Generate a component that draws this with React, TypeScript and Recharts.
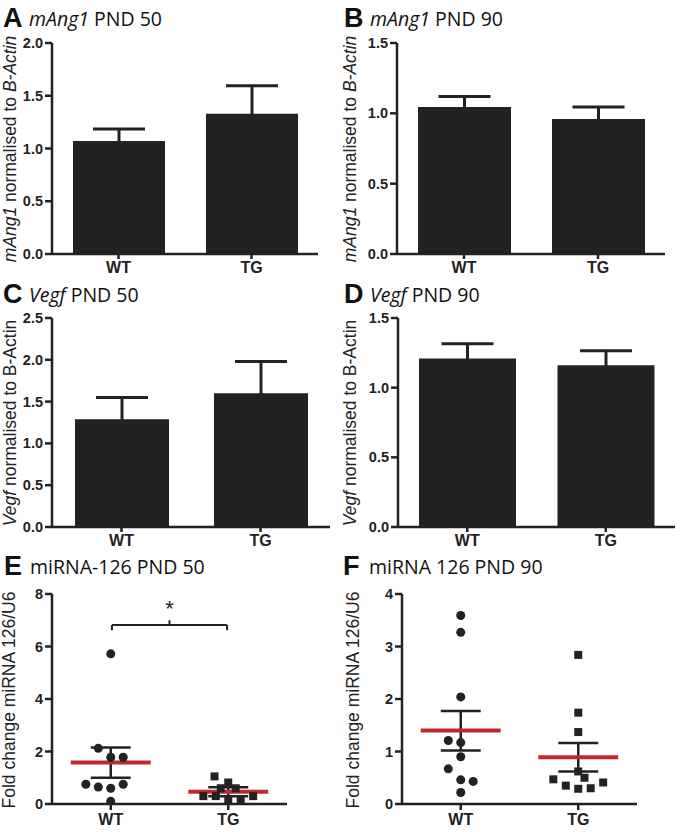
import React from 'react';
import {
  BarChart,
  Bar,
  XAxis,
  YAxis,
  ErrorBar,
  ScatterChart,
  Scatter,
  ReferenceLine,
  ReferenceDot,
} from 'recharts';

// ---------- data ----------
const groups = ['WT', 'TG'];

// A: mAng1 PND 50
const mAng1Pnd50Mean = [1.07, 1.33];
const mAng1Pnd50Sem = [0.115, 0.265];
// B: mAng1 PND 90
const mAng1Pnd90Mean = [1.045, 0.96];
const mAng1Pnd90Sem = [0.075, 0.085];
// C: Vegf PND 50
const vegfPnd50Mean = [1.29, 1.6];
const vegfPnd50Sem = [0.26, 0.38];
// D: Vegf PND 90
const vegfPnd90Mean = [1.21, 1.16];
const vegfPnd90Sem = [0.105, 0.105];

// E: miRNA-126 PND 50 (individual animals; jitter = horizontal slot of the dot)
const mir50WT = [5.72, 2.12, 1.78, 1.78, 0.75, 0.65, 0.6, 0.75, 0.1];
const mir50WTJitter = [0, -1, 0, 1, -2, -1, 0, 1, 0];
const mir50TG = [1.05, 0.82, 0.6, 0.6, 0.3, 0.3, 0.3, 0.18, 0.18];
const mir50TGJitter = [-1.1, 0, -0.6, 0.6, -2, -1, 2, 0, 1];
const mir50Mean = [1.58, 0.47];
const mir50SemLow = [1.0, 0.3];
const mir50SemHigh = [2.15, 0.64];

// F: miRNA 126 PND 90
const mir90WT = [3.59, 3.27, 2.04, 1.21, 1.17, 0.9, 0.67, 0.46, 0.43, 0.22];
const mir90WTJitter = [0, 0, 0, -1, 0, 0, -1, 0, 1, 0];
const mir90TG = [2.84, 1.74, 1.37, 0.62, 0.47, 0.5, 0.35, 0.29, 0.3, 0.41];
const mir90TGJitter = [0, 0, 0, 0, -2, 0.5, -1, 0, 1, 2];
const mir90Mean = [1.4, 0.89];
const mir90SemLow = [1.02, 0.62];
const mir90SemHigh = [1.77, 1.16];

// ---------- styles ----------
const AX = '#222';
const BAR = '#222';
const RED = '#c0282d';
const FONT = '"Liberation Sans", Arial, Helvetica, sans-serif';
const TITLE_FONT = '"Open Sans", "Noto Sans", sans-serif';
const SLOT = 0.106;
const Y_TICK_SIZE = 14.5;
const X_TICK_SIZE = 16;

const xTick = { fill: AX, fontSize: X_TICK_SIZE, fontWeight: 'bold', fontFamily: FONT };

function makeYTick(decimals: number) {
  return (props: any) => {
    const { x, y, payload } = props;
    return (
      <text
        x={x}
        y={y}
        dy={5}
        textAnchor="end"
        fill={AX}
        fontSize={Y_TICK_SIZE}
        fontWeight="bold"
        fontFamily={FONT}
      >
        {Number(payload.value).toFixed(decimals)}
      </text>
    );
  };
}

type BarPanelProps = {
  left: number;
  top: number;
  width: number;
  height: number;
  right: number;
  yWidth: number;
  mean: number[];
  sem: number[];
  domain: [number, number];
  ticks: number[];
  barSize: number;
};

function BarPanel(p: BarPanelProps) {
  const data = groups.map((g, i) => ({ group: g, value: p.mean[i], err: p.sem[i] }));
  return (
    <div style={{ position: 'absolute', left: p.left, top: p.top }}>
      <BarChart
        width={p.width}
        height={p.height}
        data={data}
        margin={{ top: 13, right: p.right, left: 0, bottom: 0 }}
      >
        <XAxis
          dataKey="group"
          height={31}
          stroke={AX}
          strokeWidth={2.5}
          tickSize={5}
          tickMargin={3}
          tick={xTick}
        />
        <YAxis
          width={p.yWidth}
          domain={p.domain}
          ticks={p.ticks}
          type="number"
          stroke={AX}
          strokeWidth={2.5}
          tickSize={7}
          tickMargin={2}
          tick={makeYTick(1)}
          allowDataOverflow
        />
        <Bar dataKey="value" fill={BAR} barSize={p.barSize} isAnimationActive={false}>
          <ErrorBar dataKey="err" width={26} stroke={BAR} strokeWidth={3} isAnimationActive={false} />
        </Bar>
      </BarChart>
    </div>
  );
}

type ScatterPanelProps = {
  left: number;
  top: number;
  width: number;
  height: number;
  right: number;
  yWidth: number;
  wt: number[];
  wtJ: number[];
  tg: number[];
  tgJ: number[];
  mean: number[];
  semLow: number[];
  semHigh: number[];
  domain: [number, number];
  ticks: number[];
  bracket?: boolean;
};

function ScatterPanel(p: ScatterPanelProps) {
  const wtData = p.wt.map((v, i) => ({ x: 0.5 + p.wtJ[i] * SLOT, y: v }));
  const tgData = p.tg.map((v, i) => ({ x: 1.5 + p.tgJ[i] * SLOT, y: v }));
  const centers = [0.5, 1.5];
  const meanHalf = 0.34;
  const capHalf = 0.17;
  return (
    <div style={{ position: 'absolute', left: p.left, top: p.top }}>
      <ScatterChart
        width={p.width}
        height={p.height}
        margin={{ top: 14, right: p.right, left: 0, bottom: 0 }}
      >
        <XAxis
          type="number"
          dataKey="x"
          domain={[0, 2]}
          ticks={centers}
          tickFormatter={(v: number) => groups[Math.round(v - 0.5)]}
          height={28}
          stroke={AX}
          strokeWidth={2.5}
          tickSize={6}
          tickMargin={4}
          tick={xTick}
          allowDataOverflow
        />
        <YAxis
          type="number"
          dataKey="y"
          width={p.yWidth}
          domain={p.domain}
          ticks={p.ticks}
          stroke={AX}
          strokeWidth={2.5}
          tickSize={7}
          tickMargin={2}
          tick={makeYTick(0)}
          allowDataOverflow
        />
        <Scatter data={wtData} fill={BAR} shape="circle" isAnimationActive={false} />
        <Scatter data={tgData} fill={BAR} shape="square" isAnimationActive={false} />
        {centers.map((c, i) => (
          <ReferenceLine
            key={'v' + i}
            segment={[
              { x: c, y: p.semLow[i] },
              { x: c, y: p.semHigh[i] },
            ]}
            stroke={AX}
            strokeWidth={2.5}
          />
        ))}
        {centers.map((c, i) => (
          <ReferenceLine
            key={'lo' + i}
            segment={[
              { x: c - capHalf, y: p.semLow[i] },
              { x: c + capHalf, y: p.semLow[i] },
            ]}
            stroke={AX}
            strokeWidth={2.5}
          />
        ))}
        {centers.map((c, i) => (
          <ReferenceLine
            key={'hi' + i}
            segment={[
              { x: c - capHalf, y: p.semHigh[i] },
              { x: c + capHalf, y: p.semHigh[i] },
            ]}
            stroke={AX}
            strokeWidth={2.5}
          />
        ))}
        {centers.map((c, i) => (
          <ReferenceLine
            key={'m' + i}
            segment={[
              { x: c - meanHalf, y: p.mean[i] },
              { x: c + meanHalf, y: p.mean[i] },
            ]}
            stroke={RED}
            strokeWidth={4}
          />
        ))}
        {p.bracket && (
          <ReferenceLine
            segment={[
              { x: 0.51, y: 6.82 },
              { x: 1.49, y: 6.82 },
            ]}
            stroke={AX}
            strokeWidth={2}
          />
        )}
        {p.bracket && (
          <ReferenceLine
            segment={[
              { x: 0.51, y: 6.82 },
              { x: 0.51, y: 6.62 },
            ]}
            stroke={AX}
            strokeWidth={2}
          />
        )}
        {p.bracket && (
          <ReferenceLine
            segment={[
              { x: 1.49, y: 6.82 },
              { x: 1.49, y: 6.62 },
            ]}
            stroke={AX}
            strokeWidth={2}
          />
        )}
        {p.bracket && (
          <ReferenceLine
            segment={[
              { x: 1.0, y: 6.82 },
              { x: 1.0, y: 7.0 },
            ]}
            stroke={AX}
            strokeWidth={2}
          />
        )}
        {p.bracket && (
          <ReferenceDot
            x={1.0}
            y={7.45}
            r={0}
            fill="none"
            stroke="none"
            label={{ value: '*', position: 'center', fontSize: 22, fill: AX, fontFamily: FONT }}
          />
        )}
      </ScatterChart>
    </div>
  );
}

type Part = { t: string; i?: boolean };

function YLabel({ x, y, parts }: { x: number; y: number; parts: Part[] }) {
  return (
    <text
      x={x}
      y={y}
      transform={`rotate(-90, ${x}, ${y})`}
      textAnchor="middle"
      fontFamily={FONT}
      fontSize={17.5}
      fill={AX}
    >
      {parts.map((pt, k) => (
        <tspan key={k} fontStyle={pt.i ? 'italic' : 'normal'}>
          {pt.t}
        </tspan>
      ))}
    </text>
  );
}

function Title({ x, y, letter, parts }: { x: number; y: number; letter: string; parts: Part[] }) {
  return (
    <g>
      <text x={x} y={y} fontFamily={FONT} fontWeight="bold" fontSize={27} fill="#111">
        {letter}
      </text>
      <text x={x + 26} y={y - 1} fontFamily={TITLE_FONT} fontSize={19.5} fill="#111">
        {parts.map((pt, k) => (
          <tspan key={k} fontStyle={pt.i ? 'italic' : 'normal'}>
            {pt.t}
          </tspan>
        ))}
      </text>
    </g>
  );
}

export default function App() {
  return (
    <div style={{ position: 'absolute', left: 0, top: 0, width: 683, height: 832, background: '#fff' }}>
      <BarPanel
        left={0}
        top={30}
        width={340}
        height={255}
        right={22}
        yWidth={52}
        mean={mAng1Pnd50Mean}
        sem={mAng1Pnd50Sem}
        domain={[0, 2]}
        ticks={[0, 0.5, 1, 1.5, 2]}
        barSize={92}
      />
      <BarPanel
        left={340}
        top={30}
        width={343}
        height={255}
        right={18}
        yWidth={57}
        mean={mAng1Pnd90Mean}
        sem={mAng1Pnd90Sem}
        domain={[0, 1.5]}
        ticks={[0, 0.5, 1, 1.5]}
        barSize={93}
      />
      <BarPanel
        left={0}
        top={305}
        width={340}
        height={253}
        right={10}
        yWidth={52}
        mean={vegfPnd50Mean}
        sem={vegfPnd50Sem}
        domain={[0, 2.5]}
        ticks={[0, 0.5, 1, 1.5, 2, 2.5]}
        barSize={94}
      />
      <BarPanel
        left={340}
        top={305}
        width={343}
        height={253}
        right={8}
        yWidth={58}
        mean={vegfPnd90Mean}
        sem={vegfPnd90Sem}
        domain={[0, 1.5]}
        ticks={[0, 0.5, 1, 1.5]}
        barSize={97}
      />
      <ScatterPanel
        left={0}
        top={580}
        width={340}
        height={252}
        right={53}
        yWidth={52}
        wt={mir50WT}
        wtJ={mir50WTJitter}
        tg={mir50TG}
        tgJ={mir50TGJitter}
        mean={mir50Mean}
        semLow={mir50SemLow}
        semHigh={mir50SemHigh}
        domain={[0, 8]}
        ticks={[0, 2, 4, 6, 8]}
        bracket
      />
      <ScatterPanel
        left={340}
        top={580}
        width={343}
        height={252}
        right={46}
        yWidth={62}
        wt={mir90WT}
        wtJ={mir90WTJitter}
        tg={mir90TG}
        tgJ={mir90TGJitter}
        mean={mir90Mean}
        semLow={mir90SemLow}
        semHigh={mir90SemHigh}
        domain={[0, 4]}
        ticks={[0, 1, 2, 3, 4]}
      />
      <svg
        width={683}
        height={832}
        style={{ position: 'absolute', left: 0, top: 0, pointerEvents: 'none' }}
      >
        <Title x={3} y={27} letter="A" parts={[{ t: 'mAng1', i: true }, { t: ' PND 50' }]} />
        <Title x={344} y={27} letter="B" parts={[{ t: 'mAng1', i: true }, { t: ' PND 90' }]} />
        <Title x={3} y={303} letter="C" parts={[{ t: 'Vegf', i: true }, { t: ' PND 50' }]} />
        <Title x={344} y={303} letter="D" parts={[{ t: 'Vegf', i: true }, { t: ' PND 90' }]} />
        <Title x={4} y={575} letter="E" parts={[{ t: 'miRNA-126 PND 50' }]} />
        <Title x={343} y={575} letter="F" parts={[{ t: 'miRNA 126 PND 90' }]} />

        <YLabel x={16} y={149} parts={[{ t: 'mAng1', i: true }, { t: ' normalised to ' }, { t: 'B-Actin', i: true }]} />
        <YLabel x={356} y={149} parts={[{ t: 'mAng1', i: true }, { t: ' normalised to ' }, { t: 'B-Actin', i: true }]} />
        <YLabel x={16} y={423} parts={[{ t: 'Vegf', i: true }, { t: ' normalised to B-Actin' }]} />
        <YLabel x={356} y={423} parts={[{ t: 'Vegf', i: true }, { t: ' normalised to B-Actin' }]} />
        <YLabel x={15} y={700} parts={[{ t: 'Fold change miRNA 126/U6' }]} />
        <YLabel x={359} y={700} parts={[{ t: 'Fold change miRNA  126/U6' }]} />
      </svg>
    </div>
  );
}
